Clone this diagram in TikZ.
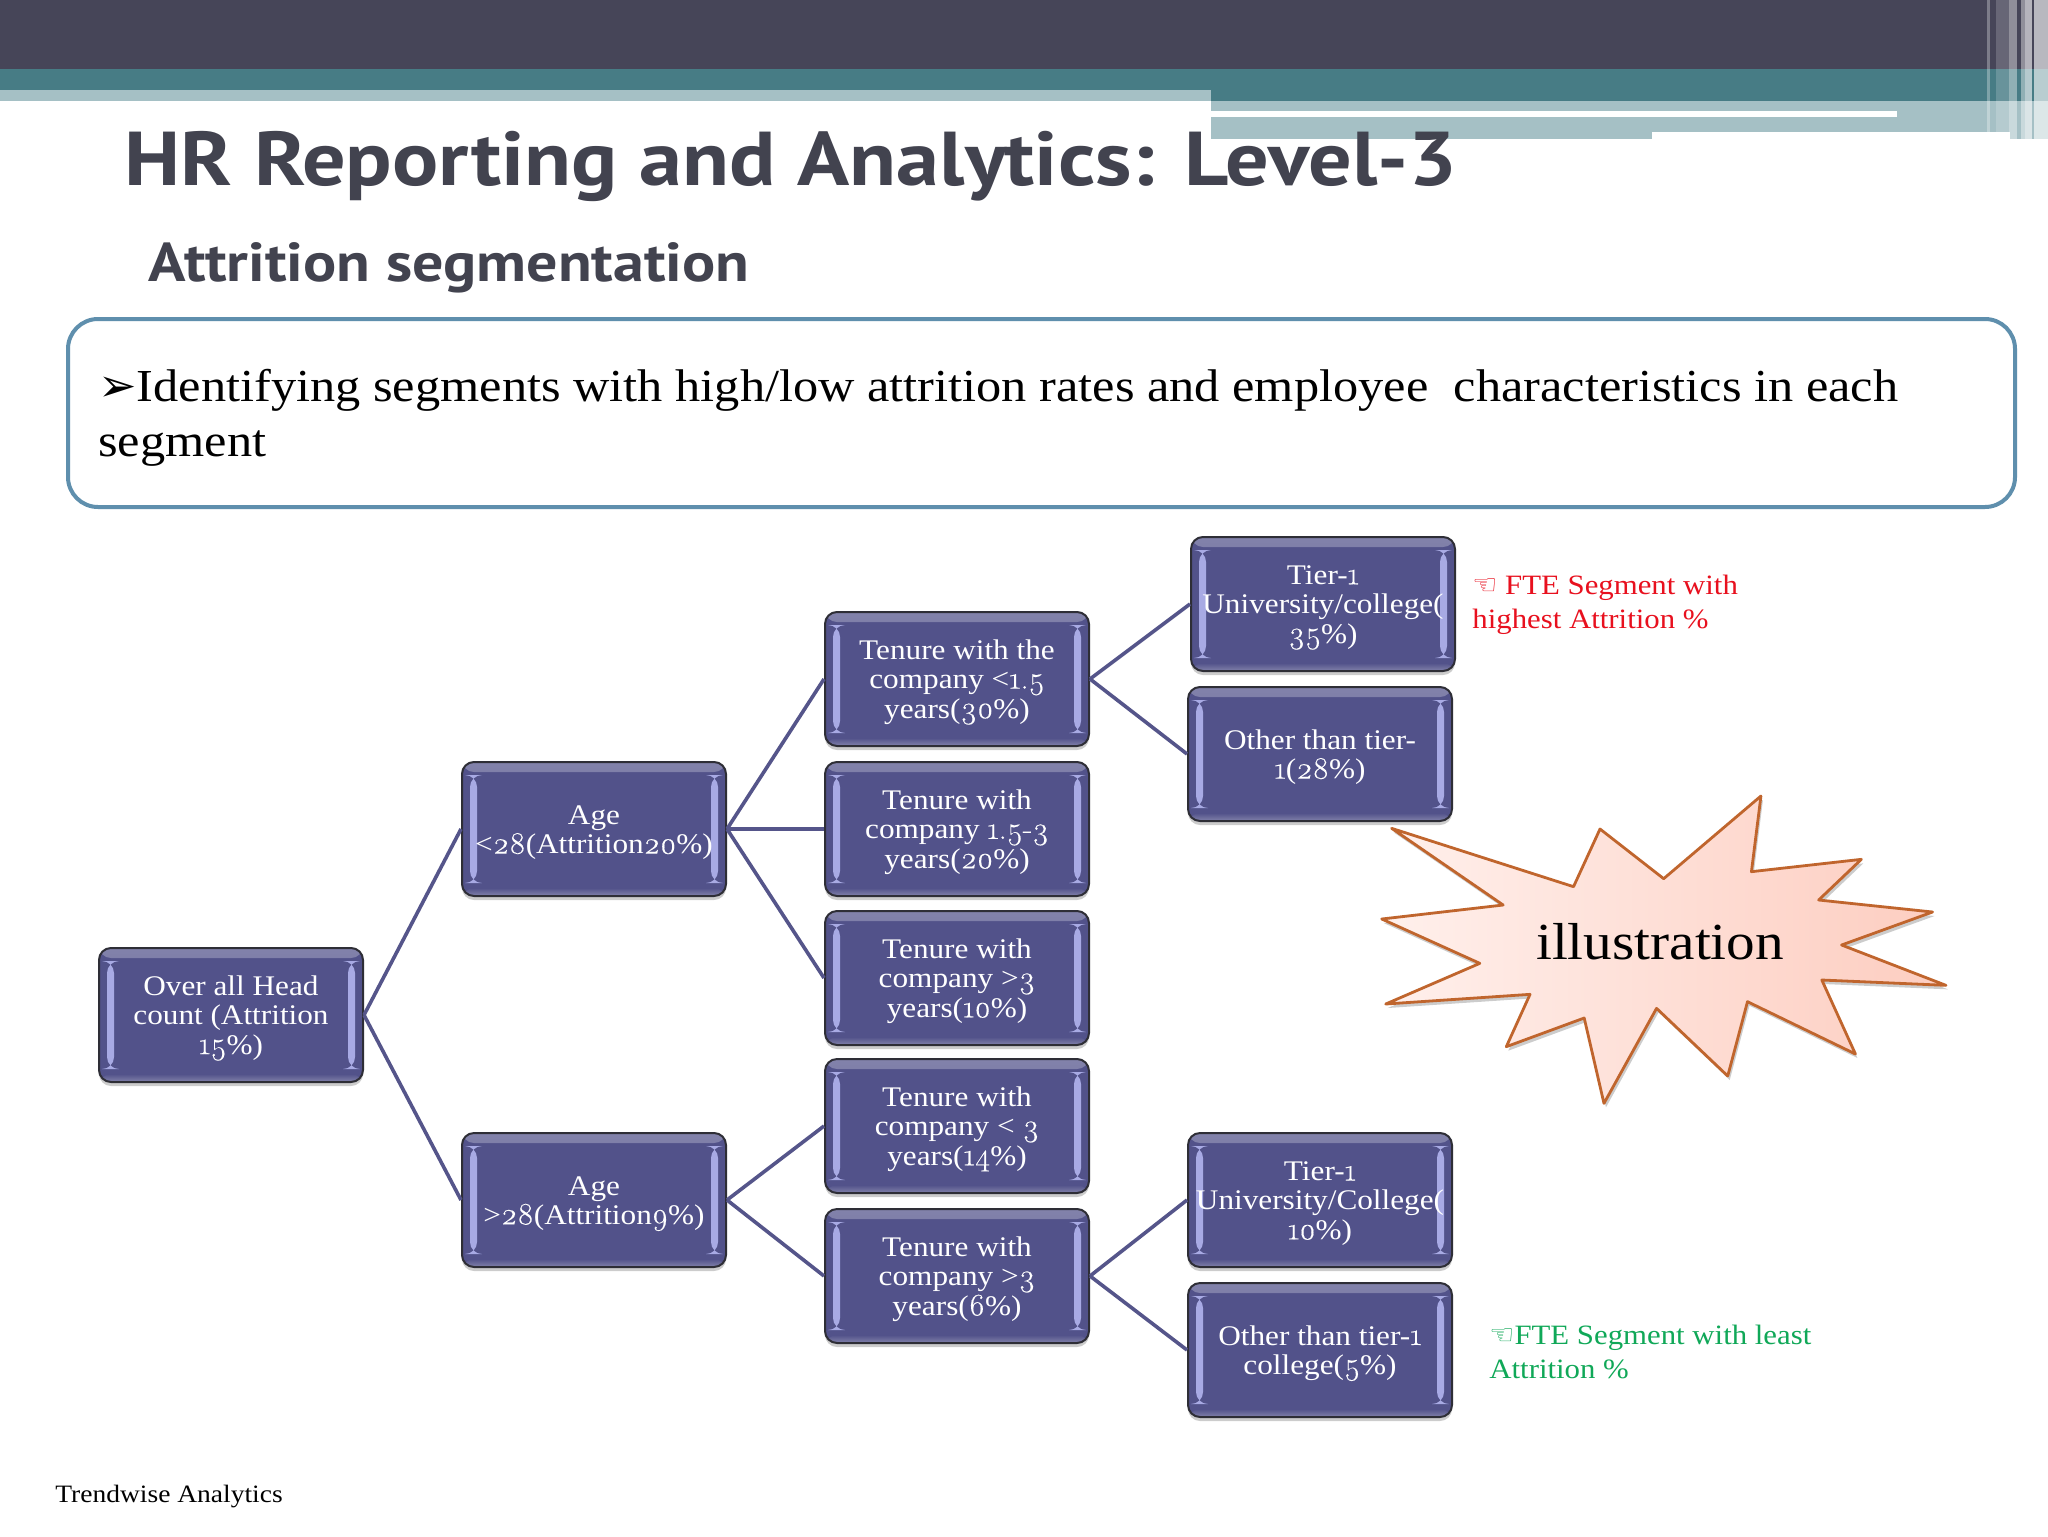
\documentclass[tikz,border=0pt]{standalone}
\usepackage{fontspec}
\usetikzlibrary{shadows}
\setmainfont{Liberation Serif}[FakeStretch=1.1]
\newfontfamily\onum{Latin Modern Roman}[Numbers=OldStyle,Scale=1.1,FakeBold=0.3]
\newfontfamily\ttl{PT Sans}[FakeStretch=1.13]
\newfontfamily\sym{DejaVu Sans}
\newcommand\os[1]{{\onum #1}}
\newcommand\tp{\rule{0pt}{13pt}}
\definecolor{hdark}{HTML}{464558}
\definecolor{hteal}{HTML}{477C85}
\definecolor{hlight}{HTML}{A5C0C5}
\definecolor{boxfill}{HTML}{52528A}
\definecolor{boxedge}{HTML}{2E2E36}
\definecolor{barc}{HTML}{A8AAE4}
\definecolor{link}{HTML}{55558A}
\definecolor{ttlc}{HTML}{42434F}
\definecolor{calloutc}{HTML}{5F8FAD}
\definecolor{starline}{HTML}{C0652D}
\definecolor{starl}{HTML}{FFF0EC}
\definecolor{starr}{HTML}{FDCDC0}
\definecolor{redt}{HTML}{E8101E}
\definecolor{greent}{HTML}{10A858}
\tikzset{
 bevelbox/.style={draw=boxedge,line width=1pt,fill=boxfill,rounded corners=6pt,
  minimum width=132pt,minimum height=67pt,inner sep=0pt,align=center,text=white,
  font=\fontsize{14.2}{14.7}\selectfont,
  drop shadow={shadow xshift=0pt,shadow yshift=-2pt,opacity=.2,fill=black},
  path picture={
   \shade[top color=boxfill!72!white,bottom color=boxfill]
     (path picture bounding box.north west) rectangle ([yshift=-5pt]path picture bounding box.north east);
   \shade[bottom color=boxfill!72!white,top color=boxfill]
     (path picture bounding box.south west) rectangle ([yshift=4pt]path picture bounding box.south east);
   \fill[barc] ([xshift=4pt,yshift=-6.5pt]path picture bounding box.north west) rectangle ([xshift=7.5pt,yshift=6.5pt]path picture bounding box.south west);
   \fill[barc] ([xshift=-4pt,yshift=-6.5pt]path picture bounding box.north east) rectangle ([xshift=-7.5pt,yshift=6.5pt]path picture bounding box.south east);
  }},
 linkline/.style={draw=link,line width=1.8pt},
 stripe/.style={fill=white,fill opacity=#1,draw=none},
}
\begin{document}
\begin{tikzpicture}[x=0.5pt,y=-0.5pt]
\useasboundingbox (0,0) rectangle (2048,1536);
\fill[white] (0,0) rectangle (2048,1536);
% header
\fill[hdark] (0,0) rectangle (2048,69);
\fill[hteal] (0,69) rectangle (2048,101);
\fill[hlight] (0,90) rectangle (1211,101);
\fill[hlight] (1211,101) rectangle (2048,139);
\fill[white] (1211,111) rectangle (1897,117);
\fill[white] (1652,132) rectangle (2010,139);
\foreach \a/\b/\o in {1987/1990/.3,1996/2009/.18,2009/2017/.4,2021/2025/.4,2025/2032/.6,2034/2048/.62}
  \fill[stripe=\o] (\a,0) rectangle (\b,139);
% titles
\node[anchor=base west,inner sep=0pt,text=ttlc,font=\ttl\bfseries\fontsize{38.15}{40}\selectfont] (title) at (124,185) {HR Reporting and Analytics: Level-3};
\node[anchor=base west,inner sep=0pt,text=ttlc,font=\ttl\bfseries\fontsize{27.4}{30}\selectfont] (subtitle) at (148,281) {Attrition segmentation};
% callout
\draw[calloutc,line width=2pt,rounded corners=15pt,fill=white] (68,319) rectangle (2015,507);
\node[anchor=north west,inner sep=0pt,align=left,font=\fontsize{22.9}{27.5}\selectfont] (callout) at (98,369)
 {{\sym\fontsize{23}{27}\selectfont ➢}Identifying segments with high/low attrition rates and employee\ \ characteristics in each\\segment};
% boxes
\node[bevelbox] (root) at (231,1015) {\tp Over all Head\\count (Attrition\\\os{15}\%)};
\node[bevelbox] (age1) at (594,829) {\tp Age\\<\os{28}(Attrition\os{20}\%)};
\node[bevelbox] (age2) at (594,1200) {\tp Age\\>\os{28}(Attrition\os{9}\%)};
\node[bevelbox] (t1) at (957,679) {\tp Tenure with the\\company <\os{1.5}\\years(\os{30}\%)};
\node[bevelbox] (t2) at (957,829) {\tp Tenure with\\company \os{1.5-3}\\years(\os{20}\%)};
\node[bevelbox] (t3) at (957,978) {\tp Tenure with\\company >\os{3}\\years(\os{10}\%)};
\node[bevelbox] (t4) at (957,1126) {\tp Tenure with\\company < \os{3}\\years(\os{14}\%)};
\node[bevelbox] (t5) at (957,1276) {\tp Tenure with\\company >\os{3}\\years(\os{6}\%)};
\node[bevelbox] (l1) at (1323,604) {\tp Tier-\os{1}\\University/college(\\\os{35}\%)};
\node[bevelbox] (l2) at (1320,754) {\tp Other than tier-\\\os{1}(\os{28}\%)};
\node[bevelbox] (l3) at (1320,1200) {\tp Tier-\os{1}\\University/College(\\\os{10}\%)};
\node[bevelbox] (l4) at (1320,1350) {\tp Other than tier-\os{1}\\college(\os{5}\%)};
% connectors
\foreach \p/\c in {root/age1,root/age2,age1/t1,age1/t2,age1/t3,age2/t4,age2/t5,t1/l1,t1/l2,t5/l3,t5/l4}
  \draw[linkline] (\p.east) -- (\c.west);
% star
\begin{scope}[shift={(1360,780)},x=0.1977pt,y=-0.16667pt]
\path[draw=starline,line width=1.4pt,line join=round,
  drop shadow={shadow xshift=1pt,shadow yshift=-2pt,opacity=.2,fill=black},
  left color=starl,right color=starr]
 (80,145)--(540,320)--(607,147)--(768,296)--(1014,48)--(990,275)--(1268,238)--(1160,360)--(1448,396)--(1218,495)--(1482,616)--(1168,600)--(1253,822)--(980,665)--(930,888)--(750,685)--(617,970)--(567,714)--(370,800)--(430,643)--(65,672)--(303,550)--(55,417)--(362,375)--cycle;
\end{scope}
\node[font=\fontsize{26}{28}\selectfont,inner sep=0pt] (illus) at (1660,942) {illustration};
% notes
\node[anchor=north west,inner sep=0pt,align=left,text=redt,font=\fontsize{14}{17}\selectfont] (rednote) at (1472,575)
 {{\sym ☜} FTE Segment with\\highest Attrition \%};
\node[anchor=north west,inner sep=0pt,align=left,text=greent,font=\fontsize{14}{17}\selectfont] (greennote) at (1489,1325)
 {{\sym ☜}FTE Segment with least\\Attrition \%};
\node[anchor=base west,inner sep=0pt,font=\fontsize{12.5}{15}\selectfont] (footer) at (55,1502) {Trendwise Analytics};
\end{tikzpicture}
\end{document}
